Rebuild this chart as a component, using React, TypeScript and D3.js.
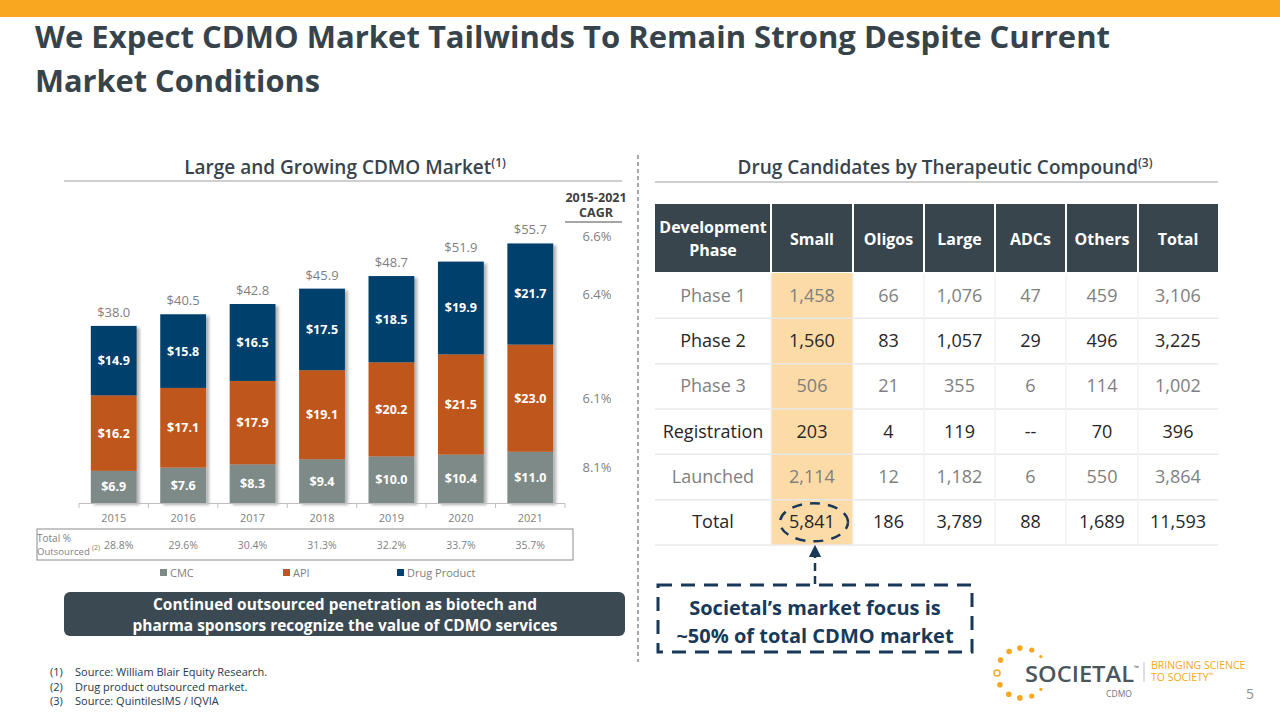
import React from 'react';
import * as d3 from 'd3';

// ---------- Data ----------
const years = ['2015', '2016', '2017', '2018', '2019', '2020', '2021'];
const cmcValues = [6.9, 7.6, 8.3, 9.4, 10.0, 10.4, 11.0];
const apiValues = [16.2, 17.1, 17.9, 19.1, 20.2, 21.5, 23.0];
const drugProductValues = [14.9, 15.8, 16.5, 17.5, 18.5, 19.9, 21.7];
const totalValues = [38.0, 40.5, 42.8, 45.9, 48.7, 51.9, 55.7];
const outsourcedPct = ['28.8%', '29.6%', '30.4%', '31.3%', '32.2%', '33.7%', '35.7%'];
const seriesNames = ['CMC', 'API', 'Drug Product'];
const cagrTotal = '6.6%';
const cagrBySeries = ['8.1%', '6.1%', '6.4%']; // CMC, API, Drug Product

const tableColumns = ['Small', 'Oligos', 'Large', 'ADCs', 'Others', 'Total'];
const phases = ['Phase 1', 'Phase 2', 'Phase 3', 'Registration', 'Launched', 'Total'];
const smallCol = ['1,458', '1,560', '506', '203', '2,114', '5,841'];
const oligosCol = ['66', '83', '21', '4', '12', '186'];
const largeCol = ['1,076', '1,057', '355', '119', '1,182', '3,789'];
const adcsCol = ['47', '29', '6', '--', '6', '88'];
const othersCol = ['459', '496', '114', '70', '550', '1,689'];
const totalCol = ['3,106', '3,225', '1,002', '396', '3,864', '11,593'];

const footnotes = [
  'Source: William Blair Equity Research.',
  'Drug product outsourced market.',
  'Source: QuintilesIMS / IQVIA',
];

// ---------- Styles ----------
const FONT = "'Open Sans', 'Noto Sans', sans-serif";
const SLATE = '#37434B';
const GREY = '#7F7F7F';
const NAVY_TXT = '#18395A';
const COLORS = ['#7E8A88', '#BF561C', '#013F6C'];
const ORANGE = '#F9A620';

export default function App() {
  const x = d3
    .scaleBand<string>()
    .domain(years)
    .range([79, 565])
    .paddingInner(0.34)
    .paddingOuter(0.17);
  const y = d3.scaleLinear().domain([0, 60]).range([503, 223.4]);
  const step = x.step();
  const bw = x.bandwidth();

  const rows = years.map((yr, i) => ({
    year: yr,
    cmc: cmcValues[i],
    api: apiValues[i],
    dp: drugProductValues[i],
  }));
  const stack = d3.stack<any>().keys(['cmc', 'api', 'dp'])(rows);

  const boundaries = d3.range(years.length + 1).map((i) => 79 + i * step);
  const last = years.length - 1;

  // table geometry
  const colEdges = [655, 771, 853, 924, 995, 1066, 1138, 1218];
  const headTop = 204;
  const headBottom = 272;
  const rowY = d3.scaleBand<string>().domain(phases).range([273, 545]);
  const tableCols = [smallCol, oligosCol, largeCol, adcsCol, othersCol, totalCol];
  const darkRows = new Set(['Phase 2', 'Registration', 'Total']);

  // logo dots
  const logoDots = [
    { a: -41, r: 1.6 },
    { a: -67, r: 2.6 },
    { a: -95, r: 2.8 },
    { a: -121, r: 2.8 },
    { a: -149, r: 2.8 },
    { a: 180, r: 3, hollow: true },
    { a: 152, r: 2.8 },
    { a: 122, r: 2.8 },
    { a: 95, r: 2.8 },
    { a: 67, r: 2.6 },
    { a: 41, r: 1.6 },
  ];
  const logoCx = 1022;
  const logoCy = 673;
  const logoR = 25;

  const smallX0 = colEdges[1];
  const smallX1 = colEdges[2];
  const ellCx = (smallX0 + smallX1) / 2 + 2;
  const ellCy = rowY('Total')! + rowY.bandwidth() / 2;

  return (
    <svg
      width={1280}
      height={720}
      style={{ position: 'absolute', left: 0, top: 0, background: '#fff' }}
      fontFamily={FONT}
    >
      <defs>
        <filter id="shadow" x="-20%" y="-10%" width="150%" height="130%">
          <feDropShadow dx="3" dy="2" stdDeviation="1.8" floodColor="#000" floodOpacity="0.3" />
        </filter>
        <marker id="arrowUp" viewBox="0 0 10 10" refX="5" refY="5" markerWidth="5" markerHeight="5" orient="auto">
          <path d="M0,0 L10,5 L0,10 z" fill={NAVY_TXT} />
        </marker>
      </defs>

      {/* top orange bar */}
      <rect x={0} y={0} width={1280} height={17} fill={ORANGE} />

      {/* title */}
      <text x={35} y={48} fontSize={31} fontWeight={700} fill={SLATE} textLength={1075} lengthAdjust="spacingAndGlyphs">
        We Expect CDMO Market Tailwinds To Remain Strong Despite Current
      </text>
      <text x={35} y={92} fontSize={31} fontWeight={700} fill={SLATE} textLength={285} lengthAdjust="spacingAndGlyphs">
        Market Conditions
      </text>

      {/* section headers */}
      <text x={345} y={174} fontSize={19} fontWeight={600} fill={SLATE} textAnchor="middle">
        Large and Growing CDMO Market
        <tspan fontSize={12} dy={-7}>(1)</tspan>
      </text>
      <line x1={64} x2={622} y1={181} y2={181} stroke="#BFBFBF" strokeWidth={1.5} />
      <text x={945} y={174} fontSize={19} fontWeight={600} fill={SLATE} textAnchor="middle">
        Drug Candidates by Therapeutic Compound
        <tspan fontSize={12} dy={-7}>(3)</tspan>
      </text>
      <line x1={655} x2={1218} y1={182} y2={182} stroke="#BFBFBF" strokeWidth={1.5} />

      {/* vertical divider */}
      <line x1={638} x2={638} y1={155} y2={662} stroke="#A6A6A6" strokeWidth={2} strokeDasharray="4 3" />

      {/* bars */}
      <g filter="url(#shadow)">
        {stack.map((s, si) =>
          s.map((d, i) => (
            <rect
              key={`${si}-${i}`}
              x={x(years[i])}
              y={y(d[1])}
              width={bw}
              height={y(d[0]) - y(d[1])}
              fill={COLORS[si]}
            />
          ))
        )}
      </g>
      {stack.map((s, si) =>
        s.map((d, i) => (
          <text
            key={`l-${si}-${i}`}
            x={x(years[i])! + bw / 2}
            y={(y(d[0]) + y(d[1])) / 2 + 4.5}
            fontSize={12.5}
            fontWeight={700}
            fill="#fff"
            textAnchor="middle"
          >
            ${(d[1] - d[0]).toFixed(1)}
          </text>
        ))
      )}
      {totalValues.map((t, i) => (
        <text key={`t-${i}`} x={x(years[i])! + bw / 2} y={y(t) - 9} fontSize={13} fill={GREY} textAnchor="middle">
          ${t.toFixed(1)}
        </text>
      ))}

      {/* x axis */}
      <line x1={boundaries[0]} x2={boundaries[boundaries.length - 1]} y1={503.5} y2={503.5} stroke="#BFBFBF" strokeWidth={1} />
      {boundaries.map((b, i) => (
        <line key={`tk-${i}`} x1={b} x2={b} y1={503.5} y2={508} stroke="#BFBFBF" strokeWidth={1} />
      ))}
      {years.map((yr) => (
        <text key={yr} x={x(yr)! + bw / 2} y={522} fontSize={11} fill={GREY} textAnchor="middle">
          {yr}
        </text>
      ))}

      {/* CAGR */}
      <text x={596} y={202} fontSize={12.5} fontWeight={700} fill="#404040" textAnchor="middle">2015-2021</text>
      <text x={596} y={217} fontSize={12.5} fontWeight={700} fill="#404040" textAnchor="middle">CAGR</text>
      <line x1={565} x2={622} y1={222} y2={222} stroke="#A6A6A6" strokeWidth={2} />
      <text x={597} y={y(totalValues[last]) - 2} fontSize={13} fill={GREY} textAnchor="middle">{cagrTotal}</text>
      {stack.map((s, si) => {
        const d = s[last];
        const mid = (y(d[0]) + y(d[1])) / 2;
        return (
          <text key={`cg-${si}`} x={597} y={mid + 5 - (si === 0 ? 10 : 0)} fontSize={13} fill={GREY} textAnchor="middle">
            {cagrBySeries[si]}
          </text>
        );
      })}

      {/* outsourced row */}
      <rect x={37} y={529} width={536} height={31} fill="none" stroke="#8C8C8C" strokeWidth={1} />
      <text x={37} y={542} fontSize={10} fill={GREY}>Total %</text>
      <text x={37} y={555} fontSize={9.6} fill={GREY}>Outsourced</text>
      <text x={92} y={550} fontSize={7} fill={GREY}>(2)</text>
      {outsourcedPct.map((p, i) => (
        <text key={`o-${i}`} x={x(years[i])! + bw / 2 + (i === 0 ? 5 : 0)} y={549} fontSize={10.5} fill={GREY} textAnchor="middle">
          {p}
        </text>
      ))}

      {/* legend */}
      {seriesNames.map((n, i) => {
        const lx = [163, 286, 400][i];
        return (
          <g key={n}>
            <rect x={lx - 3} y={569} width={7} height={7} fill={COLORS[i]} />
            <text x={lx + 7} y={577} fontSize={11} fill={GREY}>{n}</text>
          </g>
        );
      })}

      {/* callout */}
      <rect x={64} y={592} width={561} height={44} rx={6} fill="#3A4952" />
      <text x={345} y={610} fontSize={16.5} fontWeight={700} fill="#fff" textAnchor="middle" textLength={384} lengthAdjust="spacingAndGlyphs">
        Continued outsourced penetration as biotech and
      </text>
      <text x={345} y={631} fontSize={16.5} fontWeight={700} fill="#fff" textAnchor="middle" textLength={425} lengthAdjust="spacingAndGlyphs">
        pharma sponsors recognize the value of CDMO services
      </text>

      {/* footnotes */}
      {footnotes.map((f, i) => (
        <g key={`fn-${i}`}>
          <text x={50} y={676 + i * 14.5} fontSize={11} fill="#22394C">({i + 1})</text>
          <text x={75} y={676 + i * 14.5} fontSize={11} fill="#22394C">{f}</text>
        </g>
      ))}

      {/* table header */}
      <rect x={colEdges[0]} y={headTop} width={colEdges[7] - colEdges[0]} height={headBottom - headTop} fill="#38454D" />
      {colEdges.slice(1, 7).map((e, i) => (
        <line key={`hs-${i}`} x1={e} x2={e} y1={headTop} y2={headBottom} stroke="#fff" strokeWidth={2} />
      ))}
      <text x={(colEdges[0] + colEdges[1]) / 2} y={233} fontSize={16} fontWeight={700} fill="#fff" textAnchor="middle">Development</text>
      <text x={(colEdges[0] + colEdges[1]) / 2} y={256} fontSize={16} fontWeight={700} fill="#fff" textAnchor="middle">Phase</text>
      {tableColumns.map((c, i) => (
        <text key={c} x={(colEdges[i + 1] + colEdges[i + 2]) / 2} y={245} fontSize={16} fontWeight={700} fill="#fff" textAnchor="middle">
          {c}
        </text>
      ))}

      {/* table body */}
      <rect x={smallX0} y={273} width={smallX1 - smallX0} height={272} fill="#FCDBA7" />
      {phases.map((p, ri) => (
        <line key={`rl-${ri}`} x1={colEdges[0]} x2={colEdges[7]} y1={rowY(p)! + rowY.bandwidth()} y2={rowY(p)! + rowY.bandwidth()} stroke="#E8E8E8" strokeWidth={1.5} />
      ))}
      {colEdges.slice(1, 7).map((e, i) => (
        <line key={`vl-${i}`} x1={e} x2={e} y1={273} y2={545} stroke="#F2F2F2" strokeWidth={1.5} />
      ))}
      {phases.map((p, ri) => {
        const cy = rowY(p)! + rowY.bandwidth() / 2 + 6;
        const fill = darkRows.has(p) ? '#262626' : GREY;
        return (
          <g key={`row-${ri}`}>
            <text x={(colEdges[0] + colEdges[1]) / 2} y={cy} fontSize={18} fill={fill} textAnchor="middle">{p}</text>
            {tableCols.map((col, ci) => (
              <text key={ci} x={(colEdges[ci + 1] + colEdges[ci + 2]) / 2} y={cy} fontSize={18} fill={fill} textAnchor="middle">
                {col[ri]}
              </text>
            ))}
          </g>
        );
      })}

      {/* highlight ellipse & arrow */}
      <ellipse cx={ellCx} cy={ellCy} rx={34} ry={19} fill="none" stroke={NAVY_TXT} strokeWidth={2.5} strokeDasharray="10 8" strokeDashoffset={3} />
      <line x1={ellCx + 1} x2={ellCx + 1} y1={584} y2={551} stroke={NAVY_TXT} strokeWidth={2.5} strokeDasharray="8 5" markerEnd="url(#arrowUp)" />
      <rect x={658} y={585} width={314} height={67} fill="none" stroke={NAVY_TXT} strokeWidth={3} strokeDasharray="14 9" />
      <text x={815} y={615} fontSize={20} fontWeight={700} fill={NAVY_TXT} textAnchor="middle">Societal’s market focus is</text>
      <text x={815} y={643} fontSize={20} fontWeight={700} fill={NAVY_TXT} textAnchor="middle">~50% of total CDMO market</text>

      {/* logo */}
      {logoDots.map((d, i) => {
        const rad = (d.a * Math.PI) / 180;
        const cx = logoCx + logoR * Math.cos(rad);
        const cy = logoCy + logoR * Math.sin(rad);
        return d.hollow ? (
          <circle key={`ld-${i}`} cx={cx} cy={cy} r={d.r} fill="none" stroke={ORANGE} strokeWidth={1.5} />
        ) : (
          <circle key={`ld-${i}`} cx={cx} cy={cy} r={d.r} fill={ORANGE} />
        );
      })}
      <text x={1025} y={682} fontSize={22} fontWeight={600} fill="#4B575D" textLength={114} lengthAdjust="spacingAndGlyphs">
        SOCIETAL<tspan fontSize={6} dy={-12}>™</tspan>
      </text>
      <line x1={1144} x2={1144} y1={662} y2={682} stroke="#BFBFBF" strokeWidth={1} />
      <text x={1151} y={669} fontSize={10.5} fill={ORANGE}>BRINGING SCIENCE</text>
      <text x={1151} y={681} fontSize={10.5} fill={ORANGE}>TO SOCIETY<tspan fontSize={6} dy={-4}>™</tspan></text>
      <text x={1119} y={697} fontSize={8.5} fill="#6B767B" textAnchor="middle">CDMO</text>
      <text x={1250} y={699} fontSize={14} fill="#8C8C8C" textAnchor="middle">5</text>
    </svg>
  );
}
